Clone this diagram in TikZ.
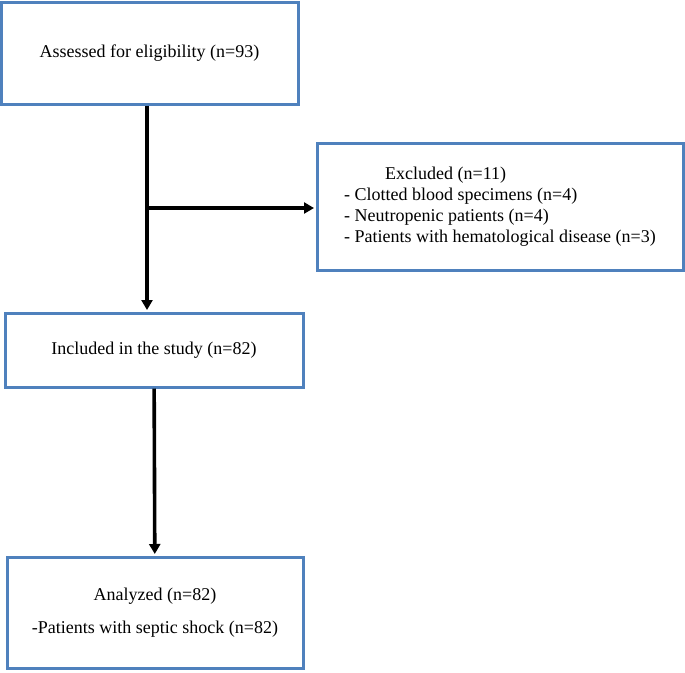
\documentclass[tikz,border=0pt]{standalone}
\usepackage{fontspec}
\setmainfont{Liberation Serif}
\usetikzlibrary{arrows.meta}

\definecolor{boxblue}{RGB}{79,129,189}
\tikzset{
    box/.style={draw=boxblue, line width=3pt, fill=white, inner sep=0pt,
        font=\fontsize{18pt}{21pt}\selectfont},
    arr/.style={line width=3.6pt, shorten >=1.5pt, -{Triangle[length=10pt,width=11pt]}}
}

\begin{document}
\begin{tikzpicture}[x=1pt,y=-1pt]
    \useasboundingbox (0,0) rectangle (685,672);

    \node[box, minimum width=297pt, minimum height=102pt] (assess) at (149.5,53)
        {Assessed for eligibility (n=93)};
    \node[box, minimum width=366pt, minimum height=127pt, align=left] (excluded) at (500,206.5)
        {\hspace*{41pt}Excluded (n=11)\\
         - Clotted blood specimens (n=4)\\
         - Neutropenic patients (n=4)\\
         - Patients with hematological disease (n=3)};
    \node[box, minimum width=298pt, minimum height=74pt] (included) at (154,350)
        {Included in the study (n=82)};
    \node[box, minimum width=296pt, minimum height=111pt, align=center] (analyzed) at (155,612.5)
        {Analyzed (n=82)\\[12pt]
         -Patients with septic shock (n=82)};

    \coordinate (split) at (147,208);

    \draw[arr] (assess.south -| split) -- (split |- included.north);
    \draw[arr] (split) -- (split -| excluded.west);
    \draw[arr] (included) -- (analyzed);
\end{tikzpicture}
\end{document}
